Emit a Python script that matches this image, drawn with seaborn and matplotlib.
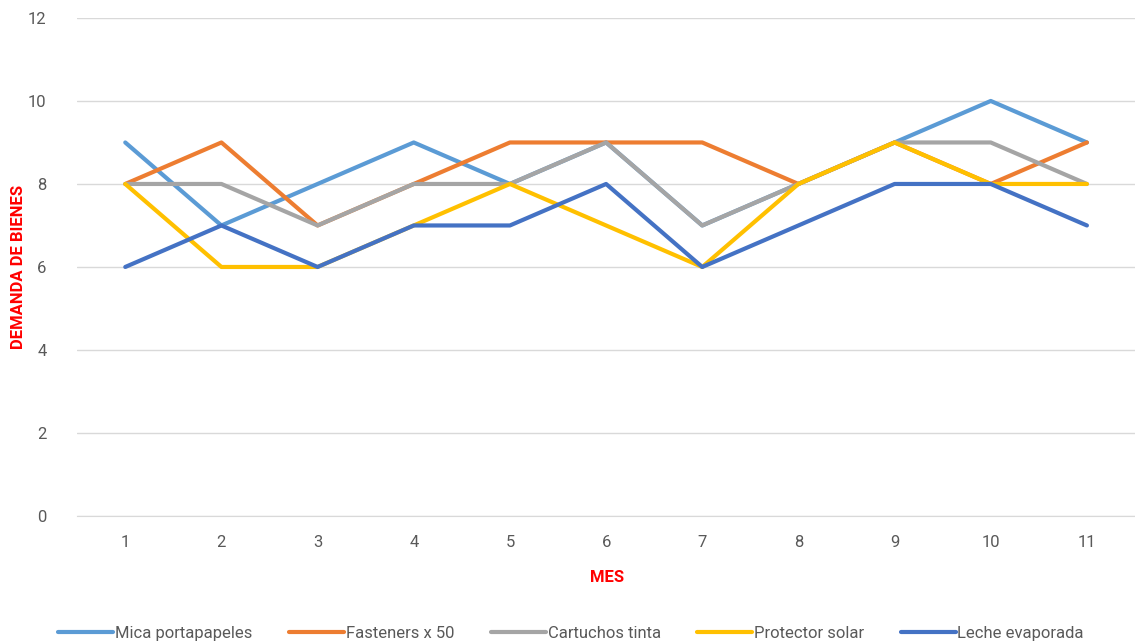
import pandas as pd
import matplotlib
matplotlib.use("Agg")
import matplotlib.pyplot as plt
import seaborn as sns

# datos
meses = [1, 2, 3, 4, 5, 6, 7, 8, 9, 10, 11]
mica = [9, 7, 8, 9, 8, 9, 7, 8, 9, 10, 9]
fasteners = [8, 9, 7, 8, 9, 9, 9, 8, 9, 8, 9]
cartuchos = [8, 8, 7, 8, 8, 9, 7, 8, 9, 9, 8]
protector = [8, 6, 6, 7, 8, 7, 6, 8, 9, 8, 8]
leche = [6, 7, 6, 7, 7, 8, 6, 7, 8, 8, 7]

series = {
    "Mica portapapeles": mica,
    "Fasteners x 50": fasteners,
    "Cartuchos tinta": cartuchos,
    "Protector solar": protector,
    "Leche evaporada": leche,
}
colores = ["#5B9BD5", "#ED7D31", "#A5A5A5", "#FFC000", "#4472C4"]

rows = []
for nombre, valores in series.items():
    for m, v in zip(meses, valores):
        rows.append({"Mes": m, "Demanda": v, "Producto": nombre})
df = pd.DataFrame(rows)

sns.set_style("white")
plt.rcParams["font.family"] = ["Roboto", "DejaVu Sans"]

fig = plt.figure(figsize=(11.35, 6.44), dpi=100)
ax = fig.add_axes([0.068, 0.1988, 0.932, 0.7733])

sns.lineplot(data=df, x="Mes", y="Demanda", hue="Producto",
             palette=colores, linewidth=3, ax=ax, legend=True)

ax.set_xlim(0.5, 11.5)
ax.set_ylim(0, 12)
ax.set_xticks(meses)
ax.set_yticks(range(0, 13, 2))
ax.tick_params(axis="both", length=0, labelsize=12, colors="#595959")
ax.tick_params(axis="x", pad=14)
ax.tick_params(axis="y", pad=22)
ax.yaxis.grid(True, color="#D9D9D9", linewidth=1)
ax.set_axisbelow(True)
for s in ax.spines.values():
    s.set_visible(False)
ax.spines["bottom"].set_visible(True)
ax.spines["bottom"].set_color("#D9D9D9")

ax.set_xlabel("MES", color="#FF0000", fontweight="bold", fontsize=12)
ax.xaxis.set_label_coords(0.501, -0.108)
ax.set_ylabel("DEMANDA DE BIENES", color="#FF0000", fontweight="bold",
              fontsize=12)
ax.yaxis.set_label_coords(-0.048, 0.5)

handles, labels = ax.get_legend_handles_labels()
ax.legend(handles, labels, loc="center", bbox_to_anchor=(0.467, -0.235),
          ncol=5, frameon=False, fontsize=12, handlelength=3.3,
          handletextpad=0.1, columnspacing=2.2, labelcolor="#595959")

fig.savefig("out.png", dpi=100)
